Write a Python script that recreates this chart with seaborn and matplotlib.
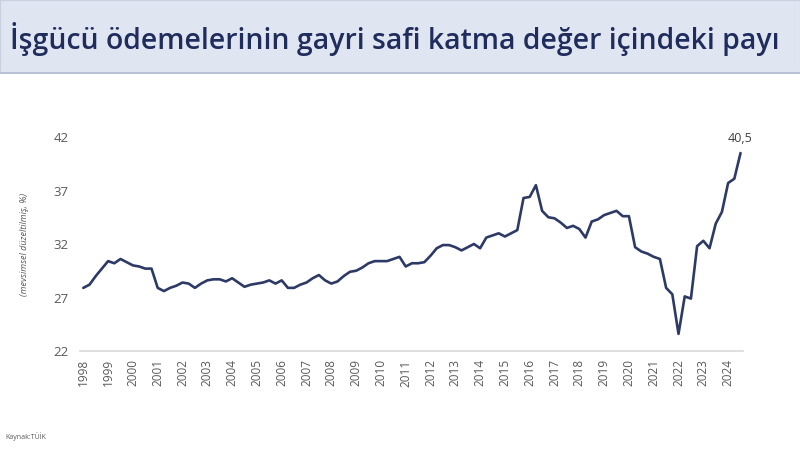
import matplotlib
matplotlib.use("Agg")
import matplotlib.pyplot as plt
import seaborn as sns
import pandas as pd
import numpy as np

# labour share of gross value added, quarterly, seasonally adjusted (%)
start_quarter = "1998Q1"
share = [
    27.9, 28.2, 29.0, 29.7, 30.4, 30.2, 30.6, 30.3, 30.0, 29.9,
    29.7, 29.7, 27.9, 27.6, 27.9, 28.1, 28.4, 28.3, 27.9, 28.3,
    28.6, 28.7, 28.7, 28.5, 28.8, 28.4, 28.0, 28.2, 28.3, 28.4,
    28.6, 28.3, 28.6, 27.9, 27.9, 28.2, 28.4, 28.8, 29.1, 28.6,
    28.3, 28.5, 29.0, 29.4, 29.5, 29.8, 30.2, 30.4, 30.4, 30.4,
    30.6, 30.8, 29.9, 30.2, 30.2, 30.3, 30.9, 31.6, 31.9, 31.9,
    31.7, 31.4, 31.7, 32.0, 31.6, 32.6, 32.8, 33.0, 32.7, 33.0,
    33.3, 36.3, 36.4, 37.5, 35.1, 34.5, 34.4, 34.0, 33.5, 33.7,
    33.4, 32.6, 34.1, 34.3, 34.7, 34.9, 35.1, 34.6, 34.6, 31.7,
    31.3, 31.1, 30.8, 30.6, 27.9, 27.3, 23.6, 27.1, 26.9, 31.8,
    32.3, 31.6, 33.9, 35.0, 37.7, 38.1, 40.5,
]
year_ticks = list(range(1998, 2025))
y_ticks = [22, 27, 32, 37, 42]
last_label = "40,5"

title = "İşgücü ödemelerinin gayri safi katma değer içindeki payı"
y_label = "(mevsimsel düzeltilmiş, %)"
source = "Kaynak:TÜİK"

periods = pd.period_range(start_quarter, periods=len(share), freq="Q")
df = pd.DataFrame({
    "t": periods.year + (periods.quarter - 1) / 4,
    "share": share,
})

sns.set_style("white")
plt.rcParams["font.family"] = ["Open Sans", "DejaVu Sans"]

fig = plt.figure(figsize=(8, 4.5), dpi=100)

# title band
band = fig.add_axes([0, 1 - 73 / 450, 1, 73 / 450])
band.set_facecolor("#dfe6f2")
band.set_xticks([])
band.set_yticks([])
for side in ["top", "left", "right"]:
    band.spines[side].set_color("#c9d1e0")
band.spines["bottom"].set_color("#b8c2d6")
band.spines["bottom"].set_linewidth(1.5)
band.text(0.012, 0.46, title, transform=band.transAxes, fontsize=20.4,
          fontweight="semibold", color="#1f2c5c", va="center", ha="left")

ax = fig.add_axes([80 / 800, 1 - 351 / 450, (743 - 80) / 800, (351 - 137) / 450])
sns.lineplot(data=df, x="t", y="share", ax=ax, color="#2e3a66", linewidth=1.9)

ax.set_xlim(1997.867, 2024.6)
ax.set_ylim(22, 42)
ax.set_yticks(y_ticks)
ax.set_xticks(year_ticks)
ax.set_xticklabels([str(y) for y in year_ticks], rotation=90)
ax.tick_params(axis="x", labelsize=8.5, colors="#595959", length=0, pad=6)
ax.tick_params(axis="y", labelsize=9.5, colors="#595959", length=0, pad=8)
ax.set_xlabel("")
ax.set_ylabel(y_label, fontsize=6.5, style="italic", color="#595959", labelpad=18)

for side in ["top", "left", "right"]:
    ax.spines[side].set_visible(False)
ax.spines["bottom"].set_color("#d9d9d9")
ax.spines["bottom"].set_linewidth(1.2)

ax.annotate(last_label, (df["t"].iloc[-1], df["share"].iloc[-1]),
            xytext=(0, 6), textcoords="offset points", ha="center", va="bottom",
            fontsize=9, color="#404040")

fig.text(5 / 800, 1 - 437 / 450, source, fontsize=5, color="#595959", va="center")

plt.savefig("out.png", dpi=100)
plt.close()
